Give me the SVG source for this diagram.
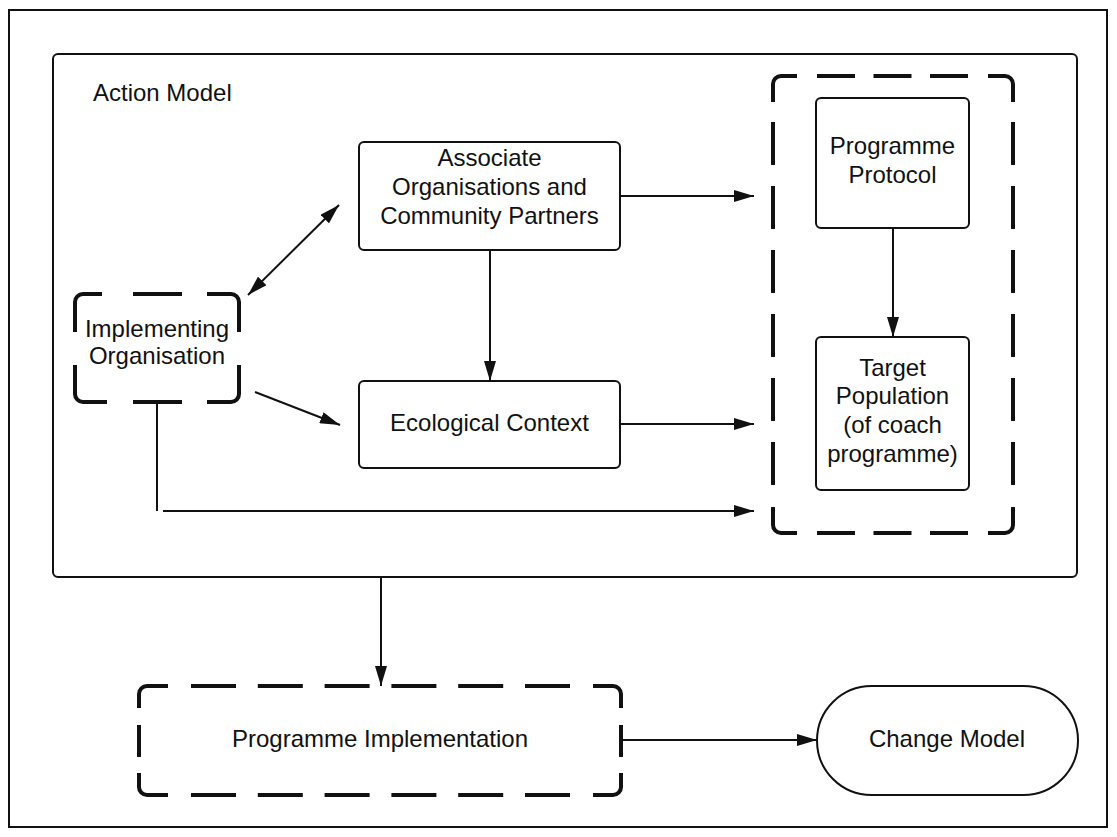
<svg xmlns="http://www.w3.org/2000/svg" width="1117" height="837" viewBox="0 0 1117 837">
  <style>
    .frame { fill: none; stroke: #111; stroke-width: 2; }
    .node { fill: #fff; stroke: #111; stroke-width: 2; }
    .dash { fill: none; stroke: #111; stroke-width: 4; stroke-linecap: butt; }
    .conn { fill: none; stroke: #111; stroke-width: 2; }
    .label { font-family: "Liberation Sans", Arial, sans-serif; font-size: 24px; fill: #111; text-anchor: middle; }
    .title { font-family: "Liberation Sans", Arial, sans-serif; font-size: 24px; fill: #111; }
  </style>
  <defs>
    <marker id="arrow" viewBox="0 0 20 12" refX="20" refY="6" markerWidth="20" markerHeight="12" markerUnits="userSpaceOnUse" orient="auto-start-reverse">
      <path d="M0,0 L20,6 L0,12 z" fill="#111"/>
    </marker>
  </defs>

  <rect width="1117" height="837" fill="#fff"/>

  <!-- outer frame -->
  <rect class="frame" x="9" y="10" width="1098" height="817" stroke-width="2.5"/>

  <!-- Action Model container -->
  <g id="action-model">
    <rect class="frame" x="53" y="54" width="1024" height="523" rx="5"/>
    <text class="title" x="93" y="101">Action Model</text>
  </g>

  <!-- dashed group holding protocol and target population -->
  <g id="programme-group">
    <path class="dash" d="M773,102 V84 A8,8 0 0 1 781,76 H797"/>
    <path class="dash" d="M988,76 H1005 A8,8 0 0 1 1013,84 V102"/>
    <path class="dash" d="M1013,507 V525 A8,8 0 0 1 1005,533 H988"/>
    <path class="dash" d="M797,533 H781 A8,8 0 0 1 773,525 V507"/>
    <path class="dash" d="M817,76 H968 M817,533 H968" stroke-dasharray="38 18.5"/>
    <path class="dash" d="M773,122 V485 M1013,122 V485" stroke-dasharray="43 21"/>
  </g>

  <g id="implementing-organisation">
    <path class="dash" d="M75,332 V302 A8,8 0 0 1 83,294 H102"/>
    <path class="dash" d="M207,294 H231 A8,8 0 0 1 239,302 V332"/>
    <path class="dash" d="M239,365 V394 A8,8 0 0 1 231,402 H207"/>
    <path class="dash" d="M107,402 H83 A8,8 0 0 1 75,394 V365"/>
    <path class="dash" d="M133,294 H182 M133,402 H182"/>
    <text class="label" x="157" y="337">Implementing</text>
    <text class="label" x="157" y="364">Organisation</text>
  </g>

  <g id="associate-organisations">
    <rect class="node" x="359" y="142" width="261" height="108" rx="5"/>
    <text class="label" x="489.5" y="166">Associate</text>
    <text class="label" x="489.5" y="195">Organisations and</text>
    <text class="label" x="489.5" y="224">Community Partners</text>
  </g>

  <g id="ecological-context">
    <rect class="node" x="359" y="381" width="261" height="87" rx="5"/>
    <text class="label" x="489.5" y="431">Ecological Context</text>
  </g>

  <g id="programme-protocol">
    <rect class="node" x="816" y="98" width="153" height="130" rx="5"/>
    <text class="label" x="892.5" y="154">Programme</text>
    <text class="label" x="892.5" y="183">Protocol</text>
  </g>

  <g id="target-population">
    <rect class="node" x="816" y="337" width="153" height="153" rx="5"/>
    <text class="label" x="892.5" y="376">Target</text>
    <text class="label" x="892.5" y="404">Population</text>
    <text class="label" x="892.5" y="433">(of coach</text>
    <text class="label" x="892.5" y="462">programme)</text>
  </g>

  <g id="programme-implementation">
    <path class="dash" d="M139,708 V694 A8,8 0 0 1 147,686 H168"/>
    <path class="dash" d="M593,686 H613 A8,8 0 0 1 621,694 V708"/>
    <path class="dash" d="M621,773 V787 A8,8 0 0 1 613,795 H593"/>
    <path class="dash" d="M168,795 H147 A8,8 0 0 1 139,787 V773"/>
    <path class="dash" d="M191,686 H570 M191,795 H570" stroke-dasharray="45 21.8"/>
    <path class="dash" d="M139,725 V757 M621,725 V757"/>
    <text class="label" x="380" y="747">Programme Implementation</text>
  </g>

  <g id="change-model">
    <rect class="node" x="817" y="686" width="261" height="109" rx="54.5"/>
    <text class="label" x="947" y="747">Change Model</text>
  </g>

  <!-- connectors -->
  <g id="connectors">
    <line class="conn" x1="248" y1="295" x2="339" y2="205" marker-start="url(#arrow)" marker-end="url(#arrow)"/>
    <line class="conn" x1="255" y1="392" x2="340" y2="425" marker-end="url(#arrow)"/>
    <line class="conn" x1="157" y1="402" x2="157" y2="511"/>
    <line class="conn" x1="163" y1="511" x2="754" y2="511" marker-end="url(#arrow)"/>
    <line class="conn" x1="620" y1="196" x2="754" y2="196" marker-end="url(#arrow)"/>
    <line class="conn" x1="620" y1="424" x2="754" y2="424" marker-end="url(#arrow)"/>
    <line class="conn" x1="490" y1="250" x2="490" y2="381" marker-end="url(#arrow)"/>
    <line class="conn" x1="893" y1="228" x2="893" y2="337" marker-end="url(#arrow)"/>
    <line class="conn" x1="381" y1="577" x2="381" y2="686" marker-end="url(#arrow)"/>
    <line class="conn" x1="621" y1="740" x2="817" y2="740" marker-end="url(#arrow)"/>
  </g>
</svg>
